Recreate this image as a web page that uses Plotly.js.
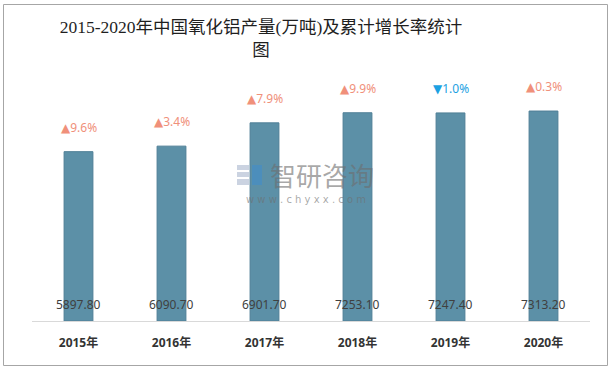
<!DOCTYPE html>
<html><head><meta charset="utf-8">
<script src="https://cdn.plot.ly/plotly-3.0.1.min.js"></script>
<style>html,body{margin:0;padding:0;background:#fff;}#chart{width:612px;height:370px;}</style>
</head><body><div id="chart"></div>
<script>
const categories = ['2015年','2016年','2017年','2018年','2019年','2020年'];
const production = [5897.80, 6090.70, 6901.70, 7253.10, 7247.40, 7313.20];
const growth = [9.6, 3.4, 7.9, 9.9, -1.0, 0.3];

const W = 612, H = 370;
const margin = {l: 32, r: 22, t: 60, b: 49};
const plotW = W - margin.l - margin.r, plotH = H - margin.t - margin.b;
const px2x = p => (p - margin.l) / plotW;
const px2y = p => (H - margin.b - p) / plotH;

const annotations = [];
categories.forEach((c, i) => {
  const up = growth[i] >= 0;
  annotations.push({
    x: c, y: production[i], xref: 'x', yref: 'y', yanchor: 'bottom', yshift: 14,
    text: (up ? '▲' : '▼') + Math.abs(growth[i]).toFixed(1) + '%',
    showarrow: false,
    font: {family: 'Noto Sans, DejaVu Sans, sans-serif', size: 12, color: up ? '#F0907A' : '#1BA1E2'}
  });
  annotations.push({
    x: c, y: 0, xref: 'x', yref: 'y', yanchor: 'bottom', yshift: 6,
    text: production[i].toFixed(2), showarrow: false,
    font: {family: 'Noto Sans, DejaVu Sans, sans-serif', size: 12, color: '#404040'}
  });
});
// watermark
annotations.push({xref: 'paper', yref: 'paper', x: px2x(322), y: px2y(174), text: '智研咨询', showarrow: false,
  borderpad: 0, font: {family: 'Noto Sans CJK SC', size: 26, color: 'rgba(110,110,110,0.6)'}});
annotations.push({xref: 'paper', yref: 'paper', x: px2x(306), y: px2y(199), text: 'w w w . c h y x x . c o m', showarrow: false,
  borderpad: 0, font: {family: 'DejaVu Sans', size: 10, color: 'rgba(110,110,110,0.6)'}});

const shapes = [
  {type: 'rect', xref: 'paper', yref: 'paper', x0: px2x(3.5), x1: px2x(607.5), y0: px2y(4.5), y1: px2y(365.5),
   line: {color: '#A6A6A6', width: 1}, fillcolor: 'rgba(0,0,0,0)', layer: 'below'},
  // watermark logo
  {type: 'rect', xref: 'paper', yref: 'paper', x0: px2x(237), x1: px2x(249), y0: px2y(165), y1: px2y(170),
   line: {width: 0}, fillcolor: 'rgba(160,175,200,0.55)', layer: 'above'},
  {type: 'rect', xref: 'paper', yref: 'paper', x0: px2x(237), x1: px2x(249), y0: px2y(172), y1: px2y(177),
   line: {width: 0}, fillcolor: 'rgba(160,175,200,0.55)', layer: 'above'},
  {type: 'rect', xref: 'paper', yref: 'paper', x0: px2x(237), x1: px2x(249), y0: px2y(179), y1: px2y(185),
   line: {width: 0}, fillcolor: 'rgba(160,175,200,0.55)', layer: 'above'},
  {type: 'rect', xref: 'paper', yref: 'paper', x0: px2x(252), x1: px2x(262), y0: px2y(165), y1: px2y(185),
   line: {width: 0}, fillcolor: 'rgba(60,140,210,0.5)', layer: 'above'}
];

const trace = {
  type: 'bar', x: categories, y: production,
  marker: {color: '#5C90A7', line: {color: '#4F7F96', width: 1}},
  hoverinfo: 'none'
};

const layout = {
  width: W, height: H, margin: margin,
  paper_bgcolor: '#fff', plot_bgcolor: '#fff',
  bargap: 0.69,
  showlegend: false,
  title: {
    text: '2015-2020年中国氧化铝产量(万吨)及累计增长率统计<br>图',
    xref: 'container', yref: 'container', x: 261 / W, xanchor: 'center', y: 1 - 33 / H, yanchor: 'top',
    font: {family: 'Liberation Serif, Noto Sans CJK SC, serif', size: 17.5, color: '#1F1F1F'}
  },
  xaxis: {
    type: 'category', showgrid: false, zeroline: false,
    showline: true, linecolor: '#D9D9D9', linewidth: 1,
    ticks: '', ticklen: 0, ticklabelstandoff: 11,
    tickfont: {family: 'Noto Sans, Noto Sans CJK SC, sans-serif', size: 12, color: '#333', weight: 'bold'}
  },
  yaxis: {
    range: [0, plotH / 0.02871], visible: false, showgrid: false, zeroline: false, fixedrange: true
  },
  annotations: annotations,
  shapes: shapes
};

Plotly.newPlot('chart', [trace], layout, {displayModeBar: false, staticPlot: true});
</script></body></html>
